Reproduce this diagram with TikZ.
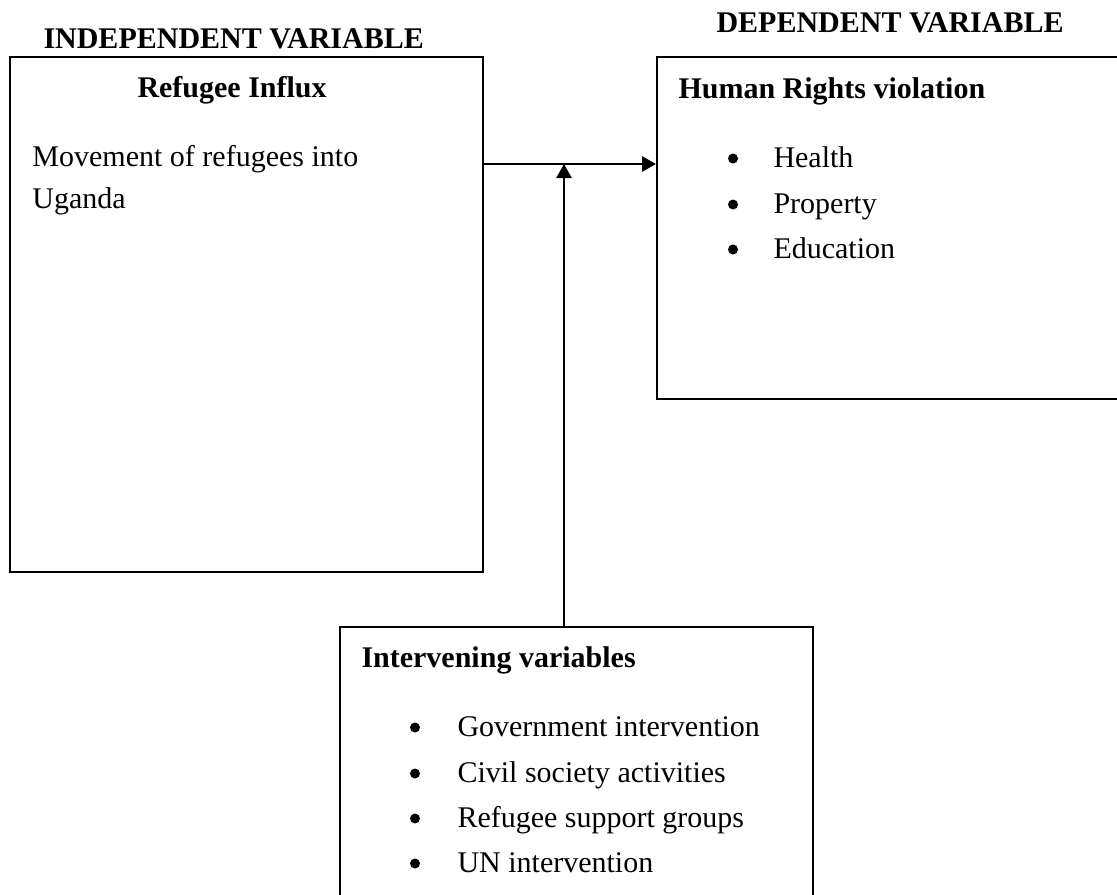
\documentclass[tikz,border=0pt]{standalone}
\usepackage{fontspec}
\setmainfont{Liberation Serif}
\usetikzlibrary{arrows.meta,fit}

\tikzset{
    varbox/.style={draw, line width=0.8pt, inner sep=0pt},
    txt/.style={inner sep=0pt, anchor=base west, font=\fontsize{12}{14}\selectfont},
    head/.style={txt, font=\fontsize{12}{14}\selectfont\bfseries},
    dot/.style={circle, fill, inner sep=0pt, minimum size=4pt},
    link/.style={line width=1.1pt, -{Triangle[length=5.6pt,width=6pt]}}
}

\begin{document}
\begin{tikzpicture}[x=0.4pt, y=-0.4pt]

%% Page: 1117 x 894 px, 1 px = 0.4pt
\useasboundingbox (0,0) rectangle (1117,894);
\fill[white] (0,0) rectangle (1117,894);
\clip (0,0) rectangle (1117,894);

%% Headings above the boxes
\node[head] (indep) at (43,48) {INDEPENDENT VARIABLE};
\node[head] (dep) at (716,32) {DEPENDENT VARIABLE};

%% Boxes (right and bottom one run past the page edge)
\node[varbox, fit={(10,57) (483,572)}] (influx) {};
\node[varbox, fit={(657,57) (1130,399)}] (violation) {};
\node[varbox, fit={(340,627) (813,905)}] (interv) {};

%% Independent variable
\node[head] (influxtitle) at (137,97) {Refugee Influx};
\node[txt] (influxline1) at (32,166) {Movement of refugees into};
\node[txt] (influxline2) at (32,208) {Uganda};

%% Dependent variable
\node[head] (violtitle) at (678,98) {Human Rights violation};
\foreach \idx/\lbl/\ypos in {
    1/Health/167,
    2/Property/213,
    3/Education/258
} {
    \node[dot] (violdot\idx) at (733,\ypos-8.5) {};
    \node[txt] (violitem\idx) at (773,\ypos) {\lbl};
}

%% Intervening variables
\node[head] (intervtitle) at (361,667) {Intervening variables};
\foreach \idx/\lbl/\ypos in {
    1/Government intervention/736,
    2/Civil society activities/782,
    3/Refugee support groups/827,
    4/UN intervention/872
} {
    \node[dot] (intervdot\idx) at (415,\ypos-8.5) {};
    \node[txt] (intervitem\idx) at (457,\ypos) {\lbl};
}

%% Connectors
\coordinate (join) at (564,164);
\draw[link] (influx.east |- join) -- (violation.west |- join);
\draw[link] (interv.north -| join) -- (join);

\end{tikzpicture}
\end{document}
